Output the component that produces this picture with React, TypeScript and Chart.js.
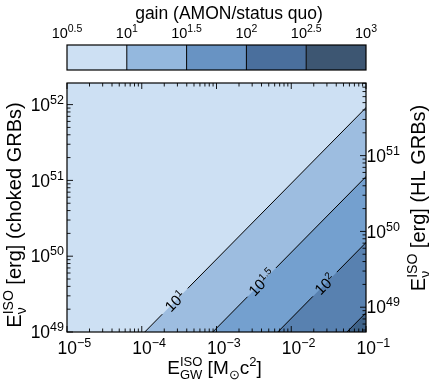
import { useEffect, useRef } from 'react';
import { Chart, registerables } from 'chart.js';
Chart.register(...registerables);

const FONT = '"Liberation Sans", Arial, Helvetica, sans-serif';

// ---- data ----
const xLogRange = [-5, -1];
const yLeftLogRange = [49, 52.285];
const yRightLogRange = [48.673, 51.958];
const xTickExps = [-5, -4, -3, -2, -1];
const yLeftTickExps = [49, 50, 51, 52];
const yRightTickExps = [49, 50, 51];
const cbarTickExps = ['0.5', '1', '1.5', '2', '2.5', '3'];
const cbarColors = ['#cde0f3', '#94b8de', '#6893c3', '#4a6f9d', '#3d5672'];
const regionColors = ['#cde0f3', '#9dbde0', '#74a0cf', '#5881b0', '#3f6389'];
const contourExps = ['1', '1.5', '2', '2.5'];
// log10(E_GW) where each contour crosses E = 1e49 (left axis)
const contourLogXAtE49 = [-3.96, -3.05, -2.18, -1.255];
// log10(E_GW) where the inline label sits (null = no label)
const contourLabelLogX: (number | null)[] = [-3.555, -2.395, -1.55, null];
const contourLabelHalfGap = [0.17, 0.19, 0.16, 0];

type Seg = { t: string; size: number; dy?: number; hold?: boolean };

function segsWidth(ctx: CanvasRenderingContext2D, segs: Seg[]) {
  let w = 0;
  let held = 0;
  for (const s of segs) {
    ctx.font = `${s.size}px ${FONT}`;
    const sw = ctx.measureText(s.t).width;
    if (s.hold) { held = sw; continue; }
    w += Math.max(sw, held);
    held = 0;
  }
  return w + held;
}

function drawSegs(ctx: CanvasRenderingContext2D, segs: Seg[], x: number, y: number, align: 'left' | 'center' | 'right') {
  const total = segsWidth(ctx, segs);
  let cx = align === 'left' ? x : align === 'center' ? x - total / 2 : x - total;
  let held = 0;
  ctx.textAlign = 'left';
  ctx.textBaseline = 'alphabetic';
  for (const s of segs) {
    ctx.font = `${s.size}px ${FONT}`;
    ctx.fillText(s.t, cx, y + (s.dy || 0));
    const sw = ctx.measureText(s.t).width;
    if (s.hold) { held = sw; continue; }
    cx += Math.max(sw, held);
    held = 0;
  }
}

const pow10 = (exp: string, size: number, supSize: number, rise: number): Seg[] => [
  { t: '10', size },
  { t: exp.replace('-', '\u2212'), size: supSize, dy: -rise },
];

function linePoints(c: number, ly0: number, ly1: number) {
  return [
    { x: Math.pow(10, c + ly0 - 49), y: Math.pow(10, ly0) },
    { x: Math.pow(10, c + ly1 - 49), y: Math.pow(10, ly1) },
  ];
}

const overlayPlugin = {
  id: 'overlay',
  beforeDatasetsDraw(chart: any) {
    const { ctx, chartArea: a } = chart;
    ctx.save();
    ctx.fillStyle = regionColors[0];
    ctx.fillRect(a.left, a.top, a.right - a.left, a.bottom - a.top);
    ctx.restore();
  },
  afterDatasetsDraw(chart: any) {
    const { ctx, chartArea: a, scales } = chart;
    const xs = scales.x, yl = scales.y, yr = scales.yR;
    ctx.save();
    ctx.fillStyle = '#000';
    // contour labels
    const ang = Math.atan2(yl.getPixelForValue(1e49) - yl.getPixelForValue(1e50), xs.getPixelForValue(1e-2) - xs.getPixelForValue(1e-3));
    contourLabelLogX.forEach((lx, i) => {
      if (lx === null) return;
      const ly = 49 + lx - contourLogXAtE49[i];
      const px = xs.getPixelForValue(Math.pow(10, lx));
      const py = yl.getPixelForValue(Math.pow(10, ly));
      ctx.save();
      ctx.translate(px, py);
      ctx.rotate(-ang);
      drawSegs(ctx, pow10(contourExps[i], 15, 10, 5.5), 0, 5.2, 'center');
      ctx.restore();
    });

    // frame
    ctx.strokeStyle = '#000';
    ctx.lineWidth = 1.2;
    ctx.strokeRect(a.left, a.top, a.right - a.left, a.bottom - a.top);

    // ticks
    ctx.lineWidth = 0.9;
    const major = 6, minor = 3.5;
    const logTicks = (lo: number, hi: number) => {
      const out: { v: number; major: boolean }[] = [];
      for (let d = Math.floor(lo); d <= Math.ceil(hi); d++) {
        for (let m = 1; m <= 9; m++) {
          const lv = d + Math.log10(m);
          if (lv >= lo - 1e-6 && lv <= hi + 1e-6) out.push({ v: Math.pow(10, lv), major: m === 1 });
        }
      }
      return out;
    };
    ctx.beginPath();
    for (const t of logTicks(xLogRange[0], xLogRange[1])) {
      const p = xs.getPixelForValue(t.v);
      const L = t.major ? major : minor;
      ctx.moveTo(p, a.bottom); ctx.lineTo(p, a.bottom - L);
      ctx.moveTo(p, a.top); ctx.lineTo(p, a.top + L);
    }
    for (const t of logTicks(yLeftLogRange[0], yLeftLogRange[1])) {
      const p = yl.getPixelForValue(t.v);
      const L = t.major ? major : minor;
      ctx.moveTo(a.left, p); ctx.lineTo(a.left + L, p);
    }
    for (const t of logTicks(yRightLogRange[0], yRightLogRange[1])) {
      const p = yr.getPixelForValue(t.v);
      const L = t.major ? major : minor;
      ctx.moveTo(a.right, p); ctx.lineTo(a.right - L, p);
    }
    ctx.stroke();

    // tick labels
    for (const e of xTickExps) {
      const p = xs.getPixelForValue(Math.pow(10, e));
      drawSegs(ctx, pow10(String(e), 17.5, 12.5, 7), p - 9.5, a.bottom + 21.5, 'left');
    }
    for (const e of yLeftTickExps) {
      const p = yl.getPixelForValue(Math.pow(10, e));
      drawSegs(ctx, pow10(String(e), 17.5, 12.5, 7), a.left - 3, p + 6.2, 'right');
    }
    for (const e of yRightTickExps) {
      const p = yr.getPixelForValue(Math.pow(10, e));
      drawSegs(ctx, pow10(String(e), 17.5, 12.5, 7), a.right + 0.5, p + 6.2, 'left');
    }

    // axis titles
    const xTitle: Seg[] = [
      { t: 'E', size: 19 },
      { t: 'ISO', size: 13, dy: -8, hold: true },
      { t: 'GW', size: 13, dy: 4.5 },
      { t: ' [M', size: 19 },
      { t: '\u2299', size: 13, dy: 4.5 },
      { t: 'c', size: 19 },
      { t: '2', size: 13, dy: -8 },
      { t: ']', size: 19 },
    ];
    drawSegs(ctx, xTitle, (a.left + a.right) / 2 - 2, a.bottom + 42, 'center');

    const yTitle = (rest: string): Seg[] => [
      { t: 'E', size: 20 },
      { t: 'ISO', size: 14, dy: -8.5, hold: true },
      { t: '\u03bd', size: 14, dy: 5 },
      { t: rest, size: 20 },
    ];
    ctx.save();
    ctx.translate(21, 215);
    ctx.rotate(-Math.PI / 2);
    drawSegs(ctx, yTitle(' [erg] (choked GRBs)'), 0, 0, 'center');
    ctx.restore();
    ctx.save();
    ctx.translate(425, 198);
    ctx.rotate(-Math.PI / 2);
    drawSegs(ctx, yTitle(' [erg] (HL GRBs)'), 0, 0, 'center');
    ctx.restore();

    // colorbar
    const cbTop = 45, cbBot = 70;
    const n = cbarColors.length;
    const cbx = (k: number) => a.left + (a.right - a.left) * k / n;
    cbarColors.forEach((c, k) => {
      ctx.fillStyle = c;
      ctx.fillRect(cbx(k), cbTop, cbx(k + 1) - cbx(k), cbBot - cbTop);
    });
    ctx.strokeStyle = '#000';
    ctx.lineWidth = 1;
    ctx.beginPath();
    for (let k = 1; k < n; k++) { ctx.moveTo(cbx(k), cbTop); ctx.lineTo(cbx(k), cbBot); }
    ctx.stroke();
    ctx.lineWidth = 1.2;
    ctx.strokeRect(a.left, cbTop, a.right - a.left, cbBot - cbTop);
    ctx.fillStyle = '#000';
    cbarTickExps.forEach((e, k) => {
      drawSegs(ctx, pow10(e, 14.5, 10.5, 5.5), cbx(k), 37.5, 'center');
    });
    drawSegs(ctx, [{ t: 'gain (AMON/status quo)', size: 17.5 }], 229, 19, 'center');
    ctx.restore();
  },
};

export default function App() {
  const ref = useRef<HTMLCanvasElement | null>(null);
  useEffect(() => {
    if (!ref.current) return;
    const datasets: any[] = [];
    contourLogXAtE49.forEach((c, i) => {
      datasets.push({
        data: linePoints(c, 47, 55),
        showLine: true,
        fill: 'start',
        backgroundColor: regionColors[i + 1],
        borderWidth: 0,
        borderColor: 'rgba(0,0,0,0)',
        pointRadius: 0,
        order: 20 - i,
        yAxisID: 'y',
      });
    });
    contourLogXAtE49.forEach((c, i) => {
      const lx = contourLabelLogX[i];
      const segs: [number, number][] = [];
      if (lx === null) {
        segs.push([47, 55]);
      } else {
        const lyc = 49 + lx - c;
        segs.push([47, lyc - contourLabelHalfGap[i]]);
        segs.push([lyc + contourLabelHalfGap[i], 55]);
      }
      segs.forEach(([a, b]) => {
        datasets.push({
          data: linePoints(c, a, b),
          showLine: true,
          fill: false,
          borderColor: '#000',
          borderWidth: 1,
          pointRadius: 0,
          order: 0,
          yAxisID: 'y',
        });
      });
    });
    const chart = new Chart(ref.current, {
      type: 'scatter',
      data: { datasets },
      options: {
        responsive: false,
        devicePixelRatio: 1,
        animation: false,
        layout: { padding: { left: 67, right: 63, top: 83, bottom: 51 } },
        plugins: { legend: { display: false }, tooltip: { enabled: false } },
        scales: {
          x: { type: 'logarithmic', min: Math.pow(10, xLogRange[0]), max: Math.pow(10, xLogRange[1]), display: false },
          y: { type: 'logarithmic', min: Math.pow(10, yLeftLogRange[0]), max: Math.pow(10, yLeftLogRange[1]), display: false },
          yR: { type: 'logarithmic', position: 'right', min: Math.pow(10, yRightLogRange[0]), max: Math.pow(10, yRightLogRange[1]), display: false },
        },
      },
      plugins: [overlayPlugin],
    } as any);
    return () => chart.destroy();
  }, []);
  return (
    <div style={{ position: 'absolute', left: 0, top: 0, width: 429, height: 383, background: '#fff' }}>
      <canvas ref={ref} width={429} height={383} style={{ display: 'block' }} />
    </div>
  );
}
